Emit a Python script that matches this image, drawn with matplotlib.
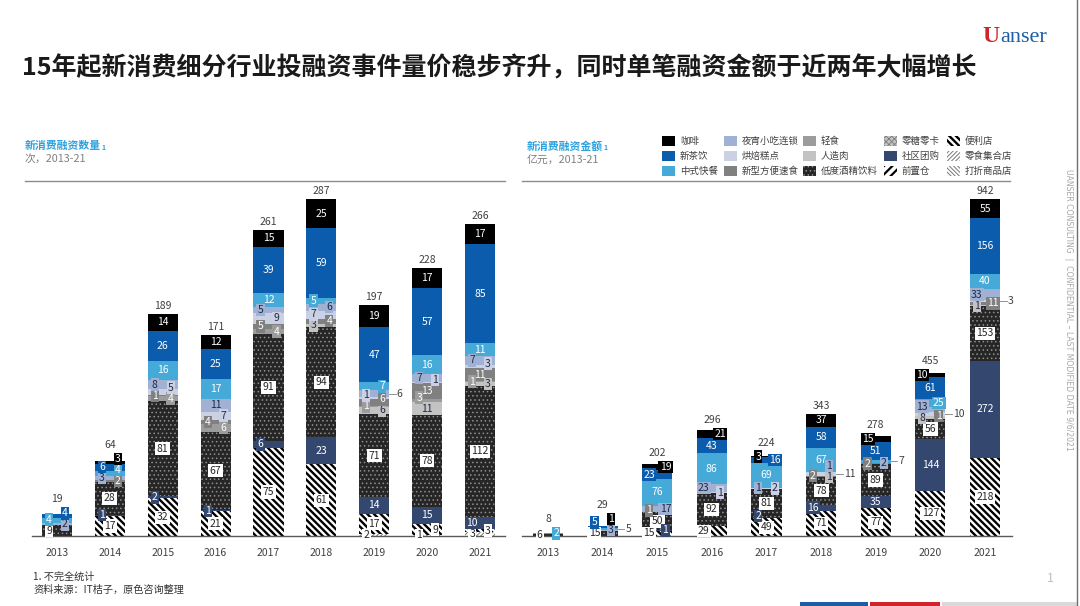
import matplotlib
matplotlib.use('Agg')
import matplotlib.pyplot as plt
import numpy as np
from matplotlib.patches import Rectangle
from matplotlib.lines import Line2D

plt.rcParams['font.family'] = ['Noto Sans CJK SC', 'DejaVu Sans']

# ---------------- data ----------------
years = ['2013', '2014', '2015', '2016', '2017', '2018', '2019', '2020', '2021']

# stacking order: bottom -> top
categories = ['打折商品店', '零食集合店', '便利店', '前置仓', '社区团购', '零糖零卡', '低度酒精饮料',
              '人造肉', '轻食', '新型方便速食', '烘焙糕点', '夜宵小吃连锁', '中式快餐', '新茶饮', '咖啡']
# legend order (column-major, 3 rows x 5 columns)
legend_order = ['咖啡', '新茶饮', '中式快餐', '夜宵小吃连锁', '烘焙糕点', '新型方便速食',
                '轻食', '人造肉', '低度酒精饮料', '零糖零卡', '社区团购', '前置仓',
                '便利店', '零食集合店', '打折商品店']

# financing event counts (次)
cnt_discount = [0, 0, 0, 0, 0, 0, 0, 0, 0]
cnt_snackstore = [0, 0, 0, 0, 0, 0, 2, 1, 3]
cnt_convenience = [0, 17, 32, 21, 75, 61, 17, 9, 3]
cnt_frontwh = [0, 0, 0, 0, 0, 0, 0, 0, 0]
cnt_community = [0, 1, 2, 1, 6, 23, 14, 15, 10]
cnt_zerosugar = [0, 0, 0, 0, 0, 0, 0, 0, 0]
cnt_lowalc = [9, 28, 81, 67, 91, 94, 71, 78, 112]
cnt_meat = [0, 0, 0, 0, 0, 3, 6, 11, 3]
cnt_light = [0, 0, 4, 6, 4, 0, 1, 3, 1]
cnt_instant = [0, 2, 1, 4, 5, 4, 6, 13, 11]
cnt_bakery = [0, 0, 5, 7, 9, 7, 1, 1, 3]
cnt_nightsnack = [2, 3, 8, 11, 5, 6, 6, 7, 7]
cnt_chinesefast = [4, 4, 16, 17, 12, 5, 7, 16, 11]
cnt_tea = [4, 6, 26, 25, 39, 59, 47, 57, 85]
cnt_coffee = [0, 3, 14, 12, 15, 25, 19, 17, 17]
cnt_totals = [19, 64, 189, 171, 261, 287, 197, 228, 266]

# financing amounts (亿元)
amt_discount = [0, 0, 0, 0, 0, 0, 0, 0, 0]
amt_snackstore = [0, 0, 0, 0, 0, 0, 0, 0, 0]
amt_convenience = [0, 0, 15, 29, 49, 71, 77, 127, 218]
amt_frontwh = [0, 0, 0, 0, 0, 0, 0, 0, 0]
amt_community = [0, 0, 1, 0, 2, 16, 35, 144, 272]
amt_zerosugar = [0, 0, 0, 0, 0, 0, 0, 0, 0]
amt_lowalc = [6, 15, 50, 92, 81, 78, 89, 56, 153]
amt_meat = [0, 0, 0, 0, 0, 1, 0, 8, 1]
amt_light = [0, 0, 0, 0, 0, 0, 0, 0, 0]
amt_instant = [0, 0, 1, 0, 0, 2, 2, 1, 11]
amt_bakery = [0, 0, 0, 1, 2, 11, 0, 10, 3]
amt_nightsnack = [0, 3, 17, 23, 1, 1, 2, 13, 33]
amt_chinesefast = [2, 5, 76, 86, 69, 67, 7, 25, 40]
amt_tea = [0, 5, 23, 43, 16, 58, 51, 61, 156]
amt_coffee = [0, 1, 19, 21, 3, 37, 15, 10, 55]
amt_totals = [8, 29, 202, 296, 224, 343, 278, 455, 942]

count_series = [cnt_discount, cnt_snackstore, cnt_convenience, cnt_frontwh, cnt_community,
                cnt_zerosugar, cnt_lowalc, cnt_meat, cnt_light, cnt_instant, cnt_bakery,
                cnt_nightsnack, cnt_chinesefast, cnt_tea, cnt_coffee]
amount_series = [amt_discount, amt_snackstore, amt_convenience, amt_frontwh, amt_community,
                 amt_zerosugar, amt_lowalc, amt_meat, amt_light, amt_instant, amt_bakery,
                 amt_nightsnack, amt_chinesefast, amt_tea, amt_coffee]

# ---------------- styles ----------------
styles = {
    '咖啡': dict(fc='#000000', hatch=None, hc=None, hlw=1.0, dark=True, pattern=False),
    '新茶饮': dict(fc='#0b5cad', hatch=None, hc=None, hlw=1.0, dark=True, pattern=False),
    '中式快餐': dict(fc='#45aad8', hatch=None, hc=None, hlw=1.0, dark=True, pattern=False),
    '夜宵小吃连锁': dict(fc='#a1b1d4', hatch=None, hc=None, hlw=1.0, dark=False, pattern=False),
    '烘焙糕点': dict(fc='#cad1e5', hatch=None, hc=None, hlw=1.0, dark=False, pattern=False),
    '新型方便速食': dict(fc='#808080', hatch=None, hc=None, hlw=1.0, dark=True, pattern=False),
    '轻食': dict(fc='#9c9c9c', hatch=None, hc=None, hlw=1.0, dark=True, pattern=False),
    '人造肉': dict(fc='#c3c3c3', hatch=None, hc=None, hlw=1.0, dark=False, pattern=False),
    '低度酒精饮料': dict(fc='#262626', hatch='....', hc='#8f8f8f', hlw=0.6, dark=True, pattern=True),
    '零糖零卡': dict(fc='#c4c4c4', hatch='xxxxxx', hc='#7a7a7a', hlw=0.6, dark=False, pattern=True),
    '社区团购': dict(fc='#34486f', hatch=None, hc=None, hlw=1.0, dark=True, pattern=False),
    '前置仓': dict(fc='#ffffff', hatch='////', hc='#000000', hlw=1.6, dark=False, pattern=True),
    '便利店': dict(fc='#ffffff', hatch='\\\\\\\\\\', hc='#000000', hlw=1.7, dark=False, pattern=True),
    '零食集合店': dict(fc='#ffffff', hatch='////////', hc='#777777', hlw=0.7, dark=False, pattern=True),
    '打折商品店': dict(fc='#ffffff', hatch='\\\\\\\\\\\\\\\\', hc='#777777', hlw=0.7, dark=False, pattern=True),
}

TXT = '#404040'
W, H = 1080, 606


def fx(px):
    return px / W


def fy(py):
    return 1 - py / H


def style_patch(p, st):
    if st['hatch']:
        p.set_hatch(st['hatch'])
        p.set_edgecolor(st['hc'])
        if hasattr(p, 'set_hatch_linewidth'):
            p.set_hatch_linewidth(st['hlw'])
    p.set_linewidth(0)


fig = plt.figure(figsize=(10.8, 6.06), dpi=100)


def draw_panel(rect_px, ymax, series, totals, width):
    x0, x1, ytop, ybase, c0, c8 = rect_px
    ax = fig.add_axes([fx(x0), fy(ybase), (x1 - x0) / W, (ybase - ytop) / H])
    sp = (c8 - c0) / 8.0
    ax.set_xlim(-(c0 - x0) / sp, 8 + (x1 - c8) / sp)
    ax.set_ylim(0, ymax)
    ppu = (ybase - ytop) / ymax
    upp = 1.0 / ppu
    xs = np.arange(len(years))
    bottoms = np.zeros(len(years))
    for cat, vals in zip(categories, series):
        st = styles[cat]
        vals = np.array(vals, dtype=float)
        with plt.rc_context({'hatch.linewidth': st['hlw']}):
            bars = ax.bar(xs, vals, width, bottom=bottoms, color=st['fc'], linewidth=0)
            for p in bars:
                style_patch(p, st)
        bottoms += vals

    for sname in ['top', 'right', 'left']:
        ax.spines[sname].set_visible(False)
    ax.spines['bottom'].set_color('#595959')
    ax.spines['bottom'].set_linewidth(1.0)
    ax.spines['bottom'].set_zorder(5)
    ax.set_yticks([])
    ax.set_xticks(xs)
    ax.set_xticklabels(years, fontsize=7.5, color=TXT)
    ax.tick_params(axis='x', length=0, pad=9)
    ax.set_facecolor('none')

    # labels
    for i in range(len(years)):
        b = 0.0
        last = {'L': -1e9, 'R': -1e9, 'O': -1e9}
        prev = 'R'
        maxlab = 0.0
        for cat, vals in zip(categories, series):
            v = vals[i]
            if v <= 0:
                continue
            st = styles[cat]
            cy = b + v / 2.0
            hpx = v * ppu
            if st['pattern']:
                tcol = '#262626'
                boxfc = 'white'
            else:
                tcol = 'white' if st['dark'] else '#1f2a44'
                boxfc = st['fc']
            if hpx >= 12:
                bbox = dict(boxstyle='square,pad=0.15', fc='white', ec='none') if st['pattern'] else None
                ax.text(i, cy, str(v), ha='center', va='center', fontsize=7.5,
                        color=tcol, bbox=bbox, zorder=6)
                last['L'] = last['R'] = cy
                maxlab = max(maxlab, cy)
            else:
                gap = 11 * upp
                best = None
                for slot, pen in (('L', 0.0), ('R', 0.0), ('O', 5 * upp)):
                    y = max(cy, last[slot] + gap)
                    cost = (y - cy) + pen + (0.5 * upp if slot == prev else 0.0)
                    if best is None or cost < best[0]:
                        best = (cost, slot, y)
                _, slot, y = best
                last[slot] = y
                prev = slot
                maxlab = max(maxlab, y)
                if slot in ('L', 'R'):
                    dx = -0.15 if slot == 'L' else 0.15
                    ax.text(i + dx, y, str(v), ha='center', va='center', fontsize=7.5,
                            color=tcol, zorder=7,
                            bbox=dict(boxstyle='square,pad=0.12', fc=boxfc, ec='none'))
                else:
                    edge = i + width / 2.0
                    ax.add_line(Line2D([edge, edge + 0.12], [cy, y], color='#7f7f7f',
                                       lw=0.6, zorder=6))
                    ax.text(edge + 0.14, y, str(v), ha='left', va='center', fontsize=7.5,
                            color=TXT, zorder=7)
            b += v
        ty = max(b, maxlab + 6 * upp) + 3 * upp
        ax.text(i, ty, str(totals[i]), ha='center', va='bottom', fontsize=7.5,
                color=TXT, zorder=7)
    return ax


# left panel: counts
draw_panel((32, 505, 190, 536, 57, 480), 346 / 1.174, count_series, cnt_totals, 0.57)
# right panel: amounts
draw_panel((522, 1012, 190, 536, 548, 985), 346 / 0.358, amount_series, amt_totals, 0.55)

# ---------------- title & decorations ----------------
fig.text(fx(22), fy(68), '15年起新消费细分行业投融资事件量价稳步齐升，同时单笔融资金额于近两年大幅增长',
         fontsize=18, fontweight='bold', color='#1a1a1a', ha='left', va='center')

# logo
fig.text(fx(982), fy(37), 'U', fontsize=17, color='#d0232b', family='Liberation Serif',
         fontweight='bold', ha='left', va='center')
fig.text(fx(1000), fy(38), 'anser', fontsize=16, color='#1d5ca6', family='Liberation Serif',
         ha='left', va='center')

# panel subtitles
blue_sub = '#2ba1de'
fig.text(fx(25), fy(146), '新消费融资数量', fontsize=7.8, fontweight='bold', color=blue_sub,
         ha='left', va='center')
fig.text(fx(101), fy(147), '1', fontsize=5, fontweight='bold', color=blue_sub, ha='left', va='center')
fig.text(fx(25), fy(160), '次，2013-21', fontsize=7.8, color='#808080', ha='left', va='center')

fig.text(fx(527), fy(146), '新消费融资金额', fontsize=7.8, fontweight='bold', color=blue_sub,
         ha='left', va='center')
fig.text(fx(603), fy(147), '1', fontsize=5, fontweight='bold', color=blue_sub, ha='left', va='center')
fig.text(fx(527), fy(160), '亿元，2013-21', fontsize=7.8, color='#808080', ha='left', va='center')

fig.add_artist(Line2D([fx(25), fx(505)], [fy(181), fy(181)], color='#8c8c8c', lw=1.0))
fig.add_artist(Line2D([fx(522), fx(1010)], [fy(181), fy(181)], color='#8c8c8c', lw=1.0))

# legend
col_px = [662, 724, 803, 884, 947]
row_px = [141, 156, 171]
for k, cat in enumerate(legend_order):
    c, r = divmod(k, 3)
    st = styles[cat]
    xp, yp = col_px[c], row_px[r]
    rect = Rectangle((fx(xp), fy(yp + 5)), 13 / W, 10 / H, transform=fig.transFigure,
                     facecolor=st['fc'], linewidth=0)
    with plt.rc_context({'hatch.linewidth': st['hlw']}):
        style_patch(rect, st)
        fig.add_artist(rect)
    fig.text(fx(xp + 18), fy(yp), cat, fontsize=6.8, color=TXT, ha='left', va='center')

# footnotes
fig.text(fx(33), fy(577), '1. 不完全统计', fontsize=7.3, color='#333333', ha='left', va='center')
fig.text(fx(33), fy(590), '资料来源：IT桔子，原色咨询整理', fontsize=7.3, color='#333333',
         ha='left', va='center')

# side confidential text
fig.text(fx(1068), fy(310), 'UANSER CONSULTING  |  CONFIDENTIAL – LAST MODIFIED DATE 9/6/2021',
         rotation=-90, fontsize=5.6, color='#a6a6a6', ha='center', va='center',
         family='DejaVu Sans')
fig.add_artist(Line2D([fx(1077), fx(1077)], [0, 1], color='#6f6f6f', lw=1.0))

# page number
fig.text(fx(1050), fy(578), '1', fontsize=9, color='#bfbfbf', ha='center', va='center')

# bottom color strip
fig.add_artist(Rectangle((fx(800), 0), 68 / W, 4 / H, transform=fig.transFigure,
                         facecolor='#1d5ca6', linewidth=0))
fig.add_artist(Rectangle((fx(870), 0), 70 / W, 4 / H, transform=fig.transFigure,
                         facecolor='#d0232b', linewidth=0))
fig.add_artist(Rectangle((fx(942), 0), 135 / W, 4 / H, transform=fig.transFigure,
                         facecolor='#d9d9d9', linewidth=0))

fig.savefig('out.png', dpi=100)
